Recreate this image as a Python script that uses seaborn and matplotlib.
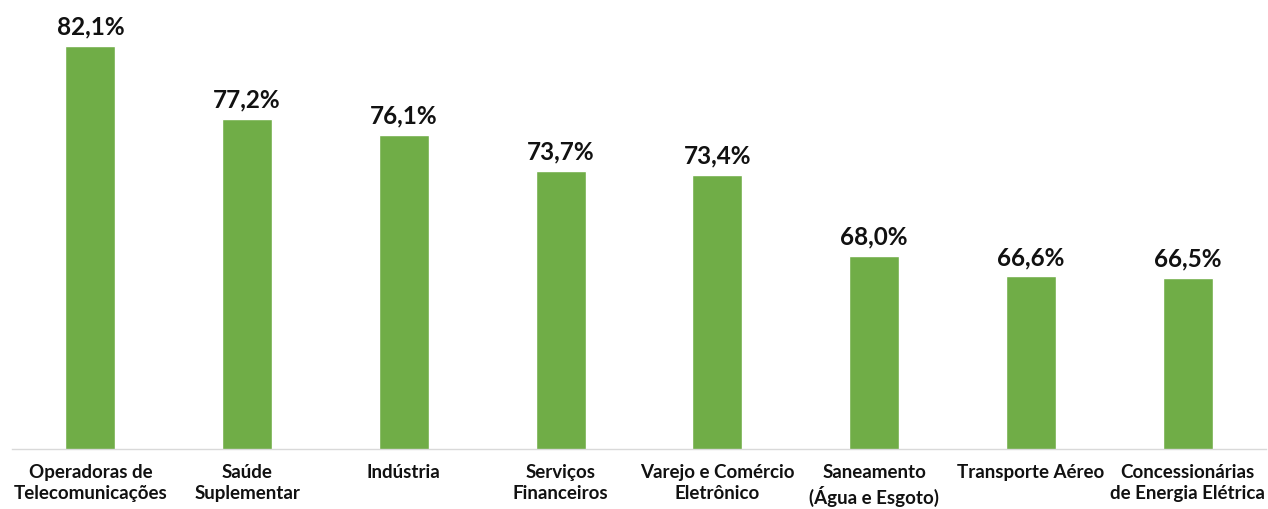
import matplotlib
matplotlib.use("Agg")
import matplotlib.pyplot as plt
import seaborn as sns
import pandas as pd

# data
setores = [
    "Operadoras de\nTelecomunicações",
    "Saúde\nSuplementar",
    "Indústria",
    "Serviços\nFinanceiros",
    "Varejo e Comércio\nEletrônico",
    "Saneamento\n(Água e Esgoto)",
    "Transporte Aéreo",
    "Concessionárias\nde Energia Elétrica",
]
valores = [82.1, 77.2, 76.1, 73.7, 73.4, 68.0, 66.6, 66.5]

df = pd.DataFrame({"setor": setores, "valor": valores})

sns.set_theme(style="white")
plt.rcParams["font.family"] = ["Lato", "DejaVu Sans"]

fig = plt.figure(figsize=(12.68, 5.10), dpi=100)
ax = fig.add_axes([12 / 1268, 60 / 510, 1254 / 1268, 448 / 510])

sns.barplot(data=df, x="setor", y="valor", color="#70AD47", width=0.32,
            saturation=1, ax=ax)

ax.set_ylim(55, 85.1)
ax.set_xlim(-0.5, len(setores) - 0.5)

for i, v in enumerate(valores):
    ax.annotate(f"{v:.1f}%".replace(".", ","), (i, v), xytext=(0, 6),
                textcoords="offset points", ha="center", va="bottom",
                fontsize=17.5, fontweight="bold", color="#111111")

ax.set_xlabel("")
ax.set_ylabel("")
ax.set_yticks([])
ax.tick_params(axis="x", length=0, pad=10)
for lbl in ax.get_xticklabels():
    lbl.set_fontsize(13.5)
    lbl.set_fontweight("bold")
    lbl.set_color("#111111")
    lbl.set_linespacing(1.3)

for side in ["top", "left", "right"]:
    ax.spines[side].set_visible(False)
ax.spines["bottom"].set_color("#D9D9D9")
ax.spines["bottom"].set_linewidth(1)

fig.savefig("out.png", dpi=100)
